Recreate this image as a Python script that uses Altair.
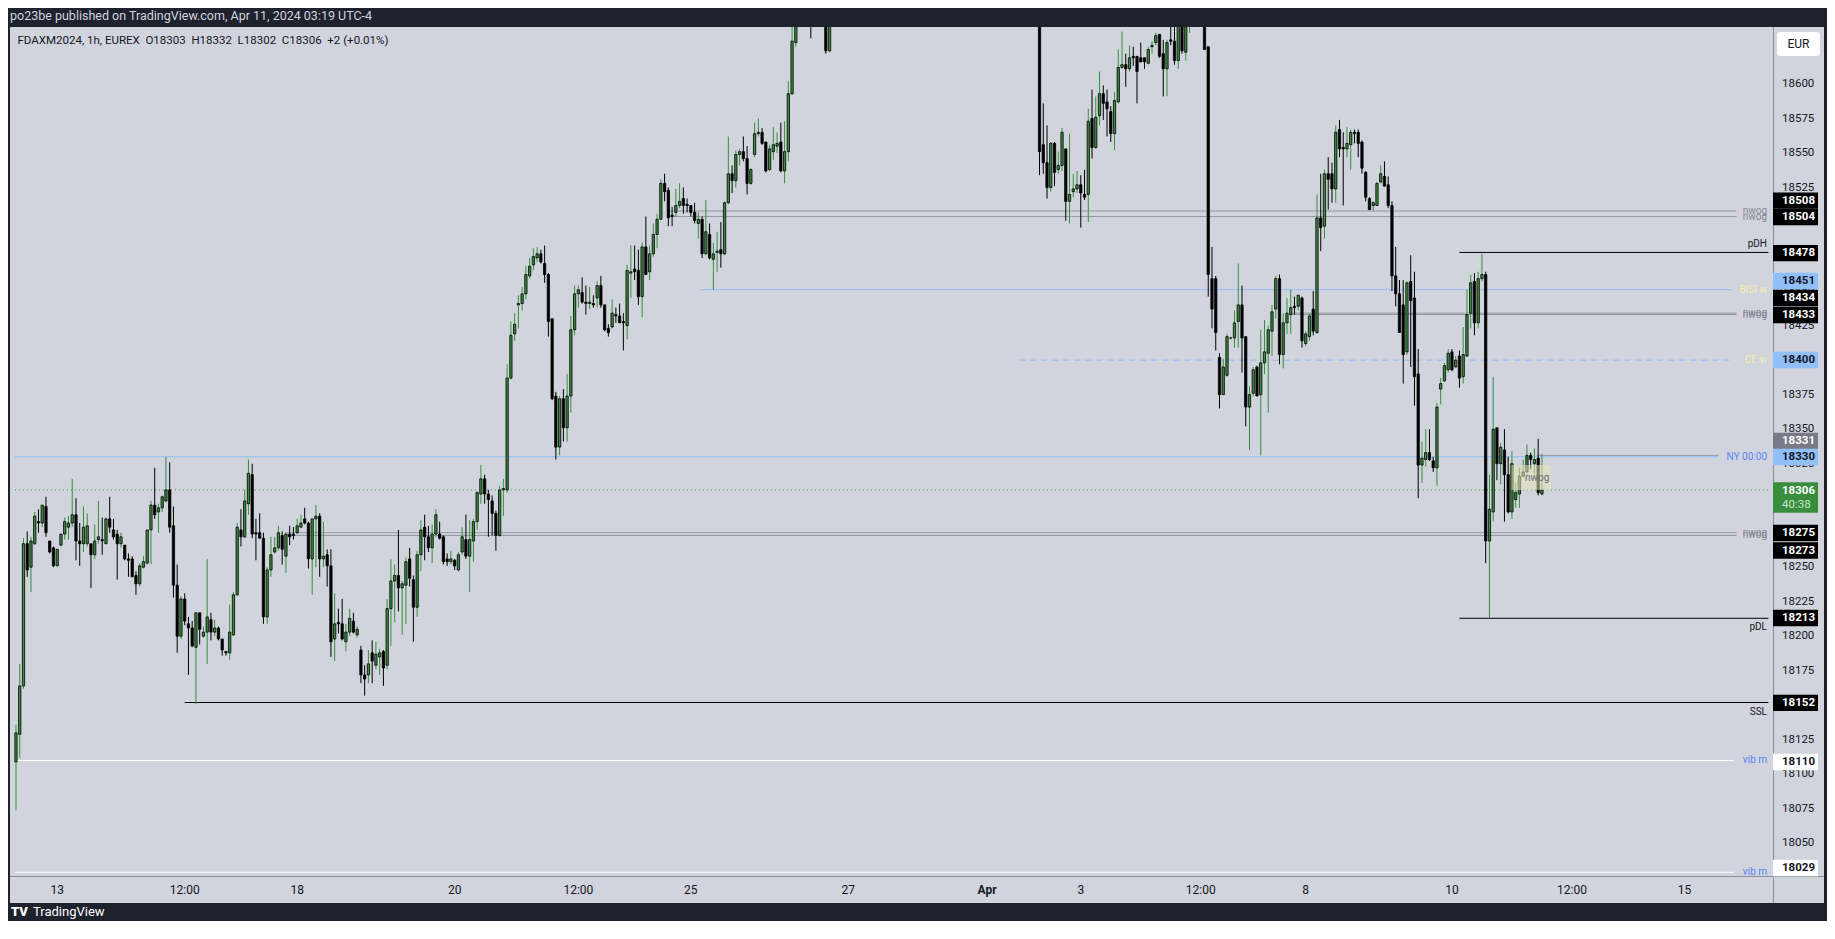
import altair as alt
import pandas as pd

# ---------------- data ----------------
OPEN = [
    18109, 18129, 18164, 18267, 18250, 18267, 18283, 18282, 18294, 18269,
    18264, 18251, 18266, 18274, 18279, 18282, 18288, 18269, 18267, 18267,
    18267, 18259, 18270, 18270, 18267, 18285, 18277, 18274, 18267, 18266,
    18256, 18256, 18244, 18238, 18250, 18253, 18277, 18295, 18290, 18293,
    18298, 18306, 18280, 18237, 18200, 18227, 18209, 18206, 18192, 18217,
    18200, 18203, 18212, 18203, 18206, 18198, 18189, 18188, 18201, 18230,
    18277, 18272, 18296, 18317, 18275, 18275, 18271, 18214, 18248, 18261,
    18264, 18273, 18258, 18274, 18274, 18275, 18279, 18285, 18282, 18256,
    18285, 18287, 18256, 18259, 18251, 18198, 18210, 18209, 18196, 18203,
    18211, 18201, 18190, 18172, 18172, 18188, 18179, 18185, 18189, 18179,
    18220, 18240, 18244, 18235, 18237, 18256, 18241, 18221, 18259, 18279,
    18272, 18264, 18274, 18274, 18272, 18256, 18254, 18255, 18248, 18261,
    18270, 18258, 18269, 18283, 18303, 18314, 18303, 18298, 18289, 18273,
    18306, 18306, 18387, 18419, 18440, 18441, 18448, 18461, 18469, 18474,
    18477, 18470, 18462, 18430, 18374, 18337, 18372, 18351, 18374, 18422,
    18448, 18449, 18442, 18441, 18441, 18445, 18454, 18440, 18423, 18424,
    18433, 18432, 18428, 18425, 18463, 18466, 18465, 18446, 18482, 18464,
    18477, 18491, 18502, 18528, 18523, 18505, 18507, 18512, 18517, 18513,
    18512, 18507, 18499, 18502, 18477, 18491, 18473, 18478, 18480, 18477,
    18514, 18535, 18530, 18549, 18551, 18546, 18528, 18549, 18564, 18565,
    18558, 18538, 18551, 18555, 18558, 18537, 18551, 18593, 18630, 18665,
    18665, 18624, 18670, 18556, 18543, 18525, 18557, 18538, 18541, 18553,
    18515, 18522, 18524, 18527, 18520, 18520, 18575, 18554, 18577, 18593,
    18587, 18580, 18564, 18587, 18612, 18614, 18611, 18620, 18620, 18619,
    18619, 18615, 18627, 18630, 18636, 18622, 18611, 18632, 18631, 18617,
    18650, 18623, 18652, 18690, 18627, 18459, 18459, 18402, 18375, 18389,
    18416, 18416, 18428, 18440, 18417, 18366, 18376, 18395, 18375, 18398,
    18405, 18421, 18437, 18459, 18404, 18427, 18433, 18439, 18439, 18445,
    18412, 18417, 18437, 18420, 18503, 18497, 18535, 18535, 18524, 18567,
    18554, 18553, 18556, 18565, 18565, 18558, 18536, 18517, 18512, 18512,
    18529, 18533, 18527, 18512, 18461, 18448, 18440, 18406, 18457, 18445,
    18390, 18324, 18328, 18333, 18327, 18322, 18379, 18385, 18393, 18406,
    18395, 18403, 18388, 18403, 18434, 18457, 18427, 18459, 18462, 18269,
    18290, 18351, 18325, 18335, 18317, 18290, 18299, 18303, 18316, 18319,
    18331, 18325, 18329, 18303,
]
HIGH = [
    18136, 18180, 18271, 18276, 18272, 18290, 18292, 18295, 18301, 18269,
    18265, 18263, 18274, 18286, 18287, 18314, 18300, 18282, 18294, 18289,
    18267, 18281, 18298, 18286, 18286, 18301, 18285, 18277, 18275, 18266,
    18260, 18258, 18247, 18253, 18258, 18277, 18298, 18322, 18296, 18302,
    18330, 18326, 18294, 18252, 18229, 18231, 18214, 18211, 18217, 18217,
    18207, 18256, 18217, 18212, 18207, 18198, 18189, 18223, 18232, 18282,
    18292, 18306, 18328, 18325, 18285, 18289, 18275, 18250, 18272, 18272,
    18280, 18276, 18275, 18280, 18279, 18285, 18288, 18293, 18283, 18285,
    18295, 18289, 18283, 18263, 18263, 18231, 18220, 18227, 18209, 18220,
    18217, 18207, 18193, 18179, 18190, 18197, 18196, 18191, 18190, 18227,
    18256, 18252, 18277, 18240, 18257, 18264, 18244, 18262, 18284, 18288,
    18280, 18281, 18292, 18283, 18273, 18260, 18262, 18256, 18261, 18279,
    18288, 18284, 18285, 18305, 18324, 18317, 18306, 18302, 18291, 18309,
    18314, 18397, 18428, 18434, 18447, 18453, 18468, 18474, 18481, 18482,
    18480, 18483, 18463, 18430, 18377, 18374, 18379, 18390, 18432, 18454,
    18454, 18460, 18454, 18453, 18447, 18457, 18461, 18440, 18426, 18444,
    18438, 18441, 18434, 18469, 18483, 18483, 18480, 18485, 18504, 18483,
    18499, 18506, 18531, 18535, 18525, 18511, 18524, 18528, 18525, 18517,
    18512, 18514, 18507, 18504, 18516, 18499, 18485, 18493, 18500, 18515,
    18562, 18541, 18552, 18553, 18562, 18555, 18539, 18572, 18575, 18568,
    18558, 18556, 18569, 18565, 18572, 18573, 18602, 18650, 18680, 18690,
    18680, 18670, 18690, 18586, 18570, 18558, 18558, 18551, 18568, 18553,
    18564, 18535, 18537, 18534, 18538, 18582, 18596, 18591, 18609, 18599,
    18596, 18584, 18594, 18625, 18638, 18622, 18628, 18627, 18620, 18630,
    18619, 18627, 18631, 18637, 18636, 18632, 18632, 18645, 18645, 18655,
    18660, 18665, 18668, 18700, 18627, 18482, 18461, 18405, 18401, 18419,
    18417, 18436, 18470, 18454, 18417, 18381, 18395, 18396, 18422, 18429,
    18425, 18440, 18461, 18462, 18434, 18445, 18451, 18446, 18447, 18446,
    18421, 18434, 18450, 18520, 18535, 18538, 18547, 18543, 18570, 18574,
    18565, 18569, 18567, 18567, 18567, 18559, 18537, 18518, 18515, 18529,
    18541, 18544, 18533, 18515, 18482, 18458, 18458, 18457, 18476, 18464,
    18408, 18341, 18350, 18350, 18330, 18369, 18387, 18398, 18408, 18408,
    18403, 18407, 18424, 18451, 18462, 18463, 18464, 18477, 18464, 18317,
    18388, 18351, 18340, 18350, 18330, 18334, 18311, 18322, 18328, 18339,
    18333, 18336, 18343, 18332,
]
LOW = [
    18074, 18112, 18162, 18243, 18232, 18266, 18275, 18279, 18272, 18260,
    18250, 18251, 18265, 18270, 18270, 18279, 18255, 18251, 18261, 18265,
    18235, 18256, 18267, 18259, 18267, 18275, 18270, 18241, 18264, 18255,
    18243, 18243, 18230, 18236, 18249, 18252, 18252, 18285, 18275, 18290,
    18297, 18275, 18228, 18188, 18198, 18208, 18172, 18192, 18151, 18194,
    18199, 18180, 18197, 18200, 18197, 18186, 18186, 18183, 18200, 18229,
    18265, 18271, 18288, 18271, 18255, 18271, 18209, 18209, 18243, 18260,
    18262, 18252, 18246, 18266, 18270, 18274, 18279, 18281, 18249, 18230,
    18250, 18243, 18250, 18236, 18185, 18182, 18202, 18197, 18189, 18200,
    18202, 18199, 18166, 18157, 18166, 18166, 18176, 18172, 18164, 18176,
    18193, 18210, 18218, 18201, 18209, 18236, 18196, 18214, 18247, 18255,
    18261, 18253, 18272, 18270, 18252, 18251, 18252, 18248, 18247, 18259,
    18256, 18232, 18254, 18277, 18296, 18296, 18272, 18273, 18262, 18272,
    18287, 18304, 18386, 18414, 18423, 18436, 18444, 18459, 18465, 18471,
    18470, 18456, 18417, 18371, 18328, 18331, 18341, 18341, 18362, 18418,
    18438, 18441, 18433, 18437, 18438, 18438, 18438, 18421, 18417, 18423,
    18427, 18427, 18407, 18415, 18445, 18458, 18440, 18431, 18462, 18458,
    18475, 18481, 18502, 18515, 18497, 18497, 18504, 18510, 18506, 18507,
    18504, 18499, 18488, 18474, 18476, 18473, 18451, 18464, 18467, 18476,
    18513, 18521, 18525, 18541, 18544, 18520, 18527, 18547, 18562, 18556,
    18536, 18537, 18545, 18550, 18536, 18528, 18544, 18592, 18627, 18633,
    18622, 18623, 18534, 18535, 18517, 18522, 18526, 18535, 18537, 18501,
    18499, 18518, 18521, 18496, 18516, 18500, 18546, 18553, 18570, 18574,
    18562, 18558, 18552, 18586, 18611, 18598, 18609, 18613, 18586, 18616,
    18611, 18614, 18622, 18628, 18619, 18591, 18591, 18628, 18614, 18611,
    18622, 18617, 18637, 18625, 18446, 18423, 18407, 18365, 18375, 18388,
    18415, 18409, 18409, 18391, 18352, 18335, 18374, 18374, 18331, 18390,
    18362, 18403, 18430, 18397, 18394, 18419, 18419, 18433, 18436, 18409,
    18410, 18414, 18418, 18419, 18479, 18488, 18509, 18514, 18514, 18547,
    18512, 18547, 18538, 18557, 18547, 18535, 18515, 18509, 18508, 18512,
    18528, 18526, 18510, 18450, 18439, 18420, 18383, 18404, 18395, 18367,
    18300, 18311, 18323, 18327, 18319, 18309, 18368, 18384, 18391, 18392,
    18395, 18380, 18383, 18402, 18423, 18418, 18423, 18457, 18253, 18213,
    18283, 18313, 18310, 18283, 18289, 18285, 18293, 18293, 18315, 18318,
    18321, 18318, 18302, 18302,
]
CLOSE = [
    18130, 18164, 18267, 18248, 18269, 18287, 18282, 18295, 18275, 18261,
    18251, 18263, 18274, 18283, 18282, 18288, 18269, 18267, 18279, 18280,
    18259, 18269, 18272, 18269, 18285, 18279, 18272, 18267, 18272, 18256,
    18255, 18243, 18238, 18251, 18254, 18277, 18295, 18288, 18293, 18301,
    18306, 18279, 18237, 18200, 18227, 18211, 18206, 18193, 18217, 18205,
    18203, 18214, 18203, 18206, 18198, 18190, 18188, 18203, 18230, 18279,
    18272, 18298, 18318, 18274, 18274, 18271, 18214, 18248, 18259, 18264,
    18275, 18263, 18274, 18272, 18273, 18280, 18282, 18282, 18256, 18285,
    18287, 18256, 18258, 18251, 18196, 18209, 18209, 18198, 18203, 18213,
    18203, 18205, 18172, 18169, 18180, 18182, 18187, 18188, 18177, 18220,
    18240, 18244, 18235, 18238, 18254, 18242, 18221, 18259, 18277, 18272,
    18264, 18274, 18288, 18271, 18254, 18254, 18256, 18251, 18259, 18272,
    18258, 18270, 18283, 18304, 18314, 18303, 18299, 18289, 18273, 18306,
    18307, 18387, 18418, 18426, 18441, 18448, 18462, 18468, 18475, 18477,
    18471, 18462, 18428, 18372, 18337, 18372, 18351, 18374, 18422, 18448,
    18451, 18442, 18441, 18442, 18440, 18454, 18440, 18422, 18420, 18434,
    18432, 18427, 18427, 18465, 18464, 18464, 18446, 18482, 18462, 18477,
    18491, 18502, 18528, 18522, 18503, 18504, 18512, 18515, 18512, 18512,
    18507, 18501, 18502, 18477, 18493, 18474, 18477, 18479, 18477, 18514,
    18535, 18530, 18549, 18551, 18546, 18528, 18538, 18564, 18565, 18557,
    18537, 18553, 18556, 18557, 18537, 18551, 18593, 18631, 18665, 18645,
    18624, 18660, 18551, 18543, 18525, 18557, 18536, 18541, 18565, 18515,
    18520, 18524, 18527, 18521, 18518, 18573, 18554, 18576, 18593, 18586,
    18582, 18564, 18588, 18612, 18614, 18611, 18619, 18619, 18609, 18616,
    18616, 18625, 18628, 18635, 18620, 18611, 18630, 18631, 18617, 18648,
    18624, 18655, 18660, 18625, 18462, 18437, 18420, 18375, 18395, 18417,
    18416, 18427, 18440, 18416, 18366, 18375, 18393, 18374, 18398, 18406,
    18422, 18435, 18459, 18404, 18427, 18434, 18438, 18438, 18447, 18414,
    18419, 18432, 18421, 18503, 18496, 18535, 18531, 18524, 18565, 18553,
    18553, 18557, 18565, 18564, 18557, 18539, 18518, 18509, 18514, 18528,
    18535, 18526, 18512, 18461, 18448, 18420, 18404, 18456, 18443, 18388,
    18324, 18329, 18333, 18328, 18322, 18366, 18383, 18396, 18405, 18393,
    18400, 18387, 18404, 18433, 18456, 18427, 18459, 18462, 18269, 18292,
    18350, 18325, 18337, 18317, 18290, 18325, 18304, 18316, 18319, 18331,
    18328, 18328, 18304, 18306,
]
# hourly slot of each candle (weekend/holiday hours removed); the missing slots
# are the candles that trade above the visible price range
SLOT = list(range(0, 209)) + [212, 216, 217] + list(range(273, 314)) + list(range(317, 408))

TIME_LABELS = ["13", "12:00", "18", "20", "12:00", "25", "27", "Apr", "3", "12:00", "8", "10", "12:00", "15"]
TIME_SLOTS = [11, 45, 75, 117, 150, 180, 222, 259, 284, 316, 344, 383, 415, 445]

PRICE_TICKS = [18600, 18575, 18550, 18525, 18500, 18475, 18450, 18425, 18400, 18375, 18350,
               18325, 18300, 18275, 18250, 18225, 18200, 18175, 18150, 18125, 18100, 18075, 18050]

LEVEL_PRICE = [18508, 18504, 18478, 18451, 18434, 18433, 18400, 18331, 18330, 18306,
               18275, 18273, 18213, 18152, 18110, 18029]
LEVEL_KIND = ["nwog", "nwog", "pDH", "BISI w", "nwog", "nwog", "CE w", "gap", "NY 00:00", "last",
              "nwog", "nwog", "pDL", "SSL", "vib m", "vib m"]
LEVEL_FROM = [174, 174, 385, 182.5, 340, 340, 267.6, 405.6, -0.3, -0.3, 72, 72, 385, 45, -0.3, -0.3]
LEVEL_TO = [458.9, 458.9, 467.4, 457.6, 458.9, 458.9, 457.6, 454.1, 454.1, 467.4,
            458.9, 458.9, 467.4, 467.4, 458.1, 458.1]

BOX_VALUE = [18508, 18504, 18478, 18451, 18434, 18433, 18400, 18331, 18330, 18275, 18273, 18213, 18152, 18110, 18029]
BOX_AT = [18515.5, 18503.7, 18477.5, 18457.3, 18445.0, 18432.7, 18400.1, 18341.4, 18329.8,
          18274.8, 18262.1, 18213.2, 18151.7, 18108.9, 18032.1]
BOX_KIND = ["dark", "dark", "dark", "blue", "dark", "dark", "blue", "gray", "blue",
            "dark", "dark", "dark", "dark", "white", "white"]

LAST_PRICE = 18306
COUNTDOWN = "40:38"
NWOG_BOX_SLOTS = [398.9, 409.5]
NWOG_BOX_PRICES = [18306, 18324]

HEADER = "po23be published on TradingView.com, Apr 11, 2024 03:19 UTC-4"
LEGEND_PARTS = ["FDAXM2024, 1h, EUREX", "O18303", "H18332", "L18302", "C18306", "+2 (+0.01%)"]

# ---------------- styling ----------------
W, H = 1819, 913
BG_DARK = "#1e222d"
PANEL = "#d1d4dc"
GREEN = "#388e3c"
INK = "#131722"
FONT = "Roboto"
NBSP2 = "\u00a0\u00a0"
X_DOMAIN = [-0.796, 481.70]
Y_DOMAIN = [17993.74, 18655.05]
PX_PER_PT = H / (Y_DOMAIN[1] - Y_DOMAIN[0])
XS = alt.Scale(domain=X_DOMAIN, nice=False, zero=False)
YS = alt.Scale(domain=Y_DOMAIN, nice=False, zero=False)

STYLE = {  # line colour, dash, label, label colour, label offset
    "nwog": ("#9598a1", "solid", "nwog", "#868993", 0),
    "pDH": ("#000000", "solid", "pDH", INK, -8),
    "BISI w": ("#90bff9", "solid", "BISI w", "#f4eeaa", 0),
    "CE w": ("#90bff9", "dashed", "CE w", "#f4eeaa", 0),
    "gap": ("#9598a1", "solid", "", "", 0),
    "NY 00:00": ("#90bff9", "solid", "NY 00:00", "#5b87f7", 0),
    "last": (GREEN, "dotted", "", "", 0),
    "pDL": ("#000000", "solid", "pDL", INK, 9),
    "SSL": ("#000000", "solid", "SSL", INK, 9),
    "vib m": ("#ffffff", "solid", "vib m", "#5b7ff7", 0),
}
BOX_STYLE = {"dark": ("#000000", "#ffffff"), "blue": ("#90bff9", INK),
             "gray": ("#787b86", "#ffffff"), "white": ("#ffffff", INK)}

ONE = pd.DataFrame({"k": [0]})


def px_rect(x0, x1, y0, y1, color, **kw):
    return alt.Chart(ONE).mark_rect(color=color, **kw).encode(
        x=alt.value(x0), x2=alt.value(x1), y=alt.value(y0), y2=alt.value(y1))


def px_text(s, x, y, **kw):
    return alt.Chart(pd.DataFrame({"s": [s]})).mark_text(font=FONT, baseline="middle", **kw).encode(
        x=alt.value(x), y=alt.value(y), text="s:N")


def X(f):
    return alt.X(f"{f}:Q", scale=XS, axis=None)


def Y(f):
    return alt.Y(f"{f}:Q", scale=YS, axis=None)


candles = pd.DataFrame({"t": SLOT, "o": OPEN, "h": HIGH, "l": LOW, "c": CLOSE})
candles["b0"] = candles[["o", "c"]].min(axis=1)
candles["b1"] = candles[["o", "c"]].max(axis=1)
is_up = "datum.c >= datum.o"

levels = pd.DataFrame({"p": LEVEL_PRICE, "kind": LEVEL_KIND, "x0": LEVEL_FROM, "x1": LEVEL_TO})
levels["col"] = [STYLE[k][0] for k in LEVEL_KIND]
levels["dash"] = [STYLE[k][1] for k in LEVEL_KIND]
levels["label"] = [STYLE[k][2] for k in LEVEL_KIND]
levels["lcol"] = [STYLE[k][3] for k in LEVEL_KIND]
levels["dy"] = [STYLE[k][4] for k in LEVEL_KIND]

layers = [px_rect(2, 1816, 19, 895, PANEL)]

dash_map = {"solid": None, "dashed": [6, 5], "dotted": [1, 3]}
for dname, dval in dash_map.items():
    sub = levels[levels.dash == dname]
    kw = {"strokeWidth": 1}
    if dval:
        kw["strokeDash"] = dval
    layers.append(alt.Chart(sub).mark_rule(**kw).encode(
        x=X("x0"), x2="x1:Q", y=Y("p"), color=alt.Color("col:N", scale=None)))

# candles
layers.append(alt.Chart(candles).mark_rule(strokeWidth=1).encode(
    x=X("t"), y=Y("l"), y2="h:Q",
    color=alt.condition(is_up, alt.value(GREEN), alt.value("#000000"))))
layers.append(alt.Chart(candles).mark_bar(orient="vertical", size=2.3, stroke="#000000", strokeWidth=0.8).encode(
    x=X("t"), y=Y("b0"), y2="b1:Q",
    fill=alt.condition(is_up, alt.value(GREEN), alt.value("#000000"))))

# small nwog zone near the last candles
nbox = pd.DataFrame({"x0": [NWOG_BOX_SLOTS[0]], "x1": [NWOG_BOX_SLOTS[1]],
                     "y0": [NWOG_BOX_PRICES[0]], "y1": [NWOG_BOX_PRICES[1]],
                     "xm": [sum(NWOG_BOX_SLOTS) / 2 + 1.5], "ym": [sum(NWOG_BOX_PRICES) / 2 - 0.5], "s": ["nwog"]})
layers.append(alt.Chart(nbox).mark_rect(color="#e6e2b8", opacity=0.55).encode(
    x=X("x0"), x2="x1:Q", y=Y("y0"), y2="y1:Q"))
layers.append(alt.Chart(nbox).mark_text(font=FONT, fontSize=10, color="#6b6e78").encode(
    x=X("xm"), y=Y("ym"), text="s:N"))

# frame covers (hide candles running above the pane)
layers += [px_rect(0, W, 0, 19, BG_DARK), px_rect(0, 2, 0, H, BG_DARK),
           px_rect(1816, W, 0, H, BG_DARK), px_rect(0, W, 895, H, BG_DARK),
           px_rect(1765, 1816, 19, 868, PANEL)]

# separators
layers.append(alt.Chart(ONE).mark_rule(color="#8d909a", strokeWidth=1).encode(
    x=alt.value(1765.5), y=alt.value(19), y2=alt.value(895)))
layers.append(alt.Chart(ONE).mark_rule(color="#8d909a", strokeWidth=1).encode(
    x=alt.value(2), x2=alt.value(1816), y=alt.value(868.5)))

# level labels
lab = levels[levels.label != ""]
for dy in sorted(set(lab.dy)):
    sub = lab[lab.dy == dy]
    layers.append(alt.Chart(sub).mark_text(font=FONT, fontSize=10, align="right", baseline="middle", dy=dy).encode(
        x=alt.value(1759), y=Y("p"), text="label:N", color=alt.Color("lcol:N", scale=None)))

# price axis labels
ticks = pd.DataFrame({"p": PRICE_TICKS, "s": [str(v) for v in PRICE_TICKS]})
layers.append(alt.Chart(ticks).mark_text(font=FONT, fontSize=11.5, align="left", baseline="middle", color=INK).encode(
    x=alt.value(1774), y=Y("p"), text="s:N"))

# price boxes
half = 8.2 / PX_PER_PT
boxes = pd.DataFrame({"v": BOX_VALUE, "p": BOX_AT, "kind": BOX_KIND})
boxes["y0"] = boxes.p - half
boxes["y1"] = boxes.p + half
boxes["bg"] = [BOX_STYLE[k][0] for k in BOX_KIND]
boxes["fg"] = [BOX_STYLE[k][1] for k in BOX_KIND]
boxes["s"] = boxes.v.astype(str)
layers.append(alt.Chart(boxes).mark_rect().encode(
    x=alt.value(1765), x2=alt.value(1810), y=Y("y0"), y2="y1:Q", fill=alt.Fill("bg:N", scale=None)))
layers.append(alt.Chart(boxes).mark_text(font=FONT, fontSize=11.5, fontWeight="bold", align="left", baseline="middle").encode(
    x=alt.value(1774), y=Y("p"), text="s:N", color=alt.Color("fg:N", scale=None)))

# current price box with countdown
last = pd.DataFrame({"y0": [LAST_PRICE + 7.6 / PX_PER_PT], "y1": [LAST_PRICE - 22.8 / PX_PER_PT],
                     "p": [LAST_PRICE], "s": [str(LAST_PRICE)], "cd": [COUNTDOWN]})
layers.append(alt.Chart(last).mark_rect(color=GREEN).encode(
    x=alt.value(1765), x2=alt.value(1810), y=Y("y0"), y2="y1:Q"))
layers.append(alt.Chart(last).mark_text(font=FONT, fontSize=11.5, fontWeight="bold", align="left", baseline="middle",
                                        color="#ffffff", dy=1).encode(x=alt.value(1774), y=Y("p"), text="s:N"))
layers.append(alt.Chart(last).mark_text(font=FONT, fontSize=11.5, align="left", baseline="middle",
                                        color="#c8e6c9", dy=15).encode(x=alt.value(1774), y=Y("p"), text="cd:N"))

# currency button
layers.append(px_rect(1769, 1812, 24, 48, "#ffffff", cornerRadius=3))
layers.append(px_text("EUR", 1790.5, 36, fontSize=12, color=INK, align="center"))

# time axis labels
tl = pd.DataFrame({"t": TIME_SLOTS, "s": TIME_LABELS})
month = tl[tl.s == "Apr"]
rest = tl[tl.s != "Apr"]
layers.append(alt.Chart(rest).mark_text(font=FONT, fontSize=12, baseline="middle", color=INK).encode(
    x=X("t"), y=alt.value(882), text="s:N"))
layers.append(alt.Chart(month).mark_text(font=FONT, fontSize=12, fontWeight="bold", baseline="middle", color=INK).encode(
    x=X("t"), y=alt.value(882), text="s:N"))

# header, legend, footer
layers.append(px_text(HEADER, 2, 8, fontSize=12.5, color="#d1d4dc", align="left"))
layers.append(px_text(NBSP2.join(LEGEND_PARTS), 9.5, 33, fontSize=11.5, color=INK, align="left"))
layers.append(px_text("TV", 3, 904, fontSize=13, fontWeight=900, color="#ffffff", align="left"))
layers.append(px_text("TradingView", 25, 904, fontSize=13, color="#ffffff", align="left"))

chart = alt.layer(*layers).properties(
    width=W, height=H, padding=0, background=BG_DARK,
    autosize=alt.AutoSizeParams(type="none"),
).configure_view(stroke=None)

chart.save("out.html", embed_options={"renderer": "svg", "actions": False})
